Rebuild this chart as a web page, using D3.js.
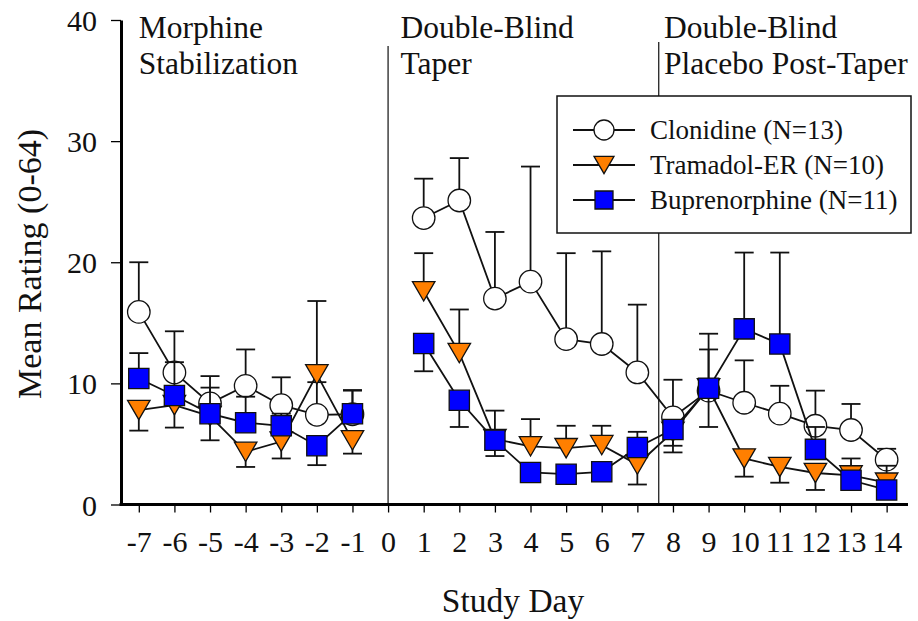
<!DOCTYPE html>
<html>
<head>
<meta charset="utf-8">
<script src="https://cdn.jsdelivr.net/npm/d3@7"></script>
<style>
   body { margin: 0; background: #fff; }
   svg { display: block; font-family: "Liberation Serif", "Times New Roman", serif; }
</style>
</head>
<body>
<svg class="chart" width="918" height="621"></svg>
<script>
// DATA
var studyDays = [-7, -6, -5, -4, -3, -2, -1, 1, 2, 3, 4, 5, 6, 7, 8, 9, 10, 11, 12, 13, 14];
var xTickValues = d3.range(-7, 15);
var yTickValues = [0, 10, 20, 30, 40];

var clonidineMeans = [15.9, 10.9, 8.35, 9.8, 8.2, 7.4, 7.45, 23.65, 25.1, 17.0, 18.4, 13.65, 13.25, 10.9, 7.2, 9.4, 8.4, 7.5, 6.5, 6.15, 3.7];
// signed: positive bar drawn up, negative drawn down
var clonidineErrors = [4.1, 3.4, 2.25, 3.0, 2.3, 2.7, 2.0, 3.25, 3.5, 5.5, 9.5, 7.1, 7.65, 5.6, 3.1, 4.7, 3.5, 2.3, 2.9, 2.15, 0.9];

var tramadolMeans = [7.8, 8.2, 7.3, 4.35, 5.2, 10.75, 5.3, 17.6, 12.5, 5.4, 4.8, 4.65, 4.9, 3.3, 6.0, 9.6, 3.8, 3.1, 2.6, 2.4, 1.8];
var tramadolErrors = [-1.7, -1.85, -2.0, -1.25, -1.4, 6.05, -1.1, 3.15, 3.6, 2.35, 2.25, 1.85, 1.6, -1.65, -1.7, -3.2, -1.5, -1.3, -1.4, 1.4, 1.4];

var buprenorphineMeans = [10.4, 9.0, 7.5, 6.75, 6.5, 4.85, 7.5, 13.3, 8.6, 5.3, 2.65, 2.5, 2.7, 4.7, 6.2, 9.6, 14.5, 13.25, 4.55, 2.0, 1.2];
var buprenorphineErrors = [2.1, 2.75, 2.15, 2.15, 1.0, -1.6, 1.9, -2.3, -2.2, -1.3, -0.75, -0.5, -0.5, 1.3, -1.35, 3.2, 6.3, 7.55, 1.85, -0.5, -0.4];

var seriesNames = ['Clonidine (N=13)', 'Tramadol-ER (N=10)', 'Buprenorphine (N=11)'];
var seriesColors = ['#ffffff', '#ff7f00', '#0000ff'];
var seriesSymbols = ['circle', 'triangle', 'square'];

var phaseLabels = [['Morphine', 'Stabilization'], ['Double-Blind', 'Taper'], ['Double-Blind', 'Placebo Post-Taper']];
var phaseStartDays = [-7, 0.35, 7.75];
var phaseDividers = [0, 7.6];

(function () {
   var svg = d3.select('svg.chart');

   var x = d3.scaleLinear().domain([-7.5, 14.6]).range([121, 908]);
   var y = d3.scaleLinear().domain([0, 40]).range([504.5, 20]);

   var series = [
      {name: seriesNames[0], means: clonidineMeans, errors: clonidineErrors},
      {name: seriesNames[1], means: tramadolMeans, errors: tramadolErrors},
      {name: seriesNames[2], means: buprenorphineMeans, errors: buprenorphineErrors}
   ].map(function (s, i) {
      s.color = seriesColors[i];
      s.symbol = seriesSymbols[i];
      s.points = studyDays.map(function (day, j) {
         return {day: day, mean: s.means[j], err: s.errors[j]};
      });
      return s;
   });

   // phase divider lines
   svg.selectAll('.divider')
      .data(phaseDividers)
      .enter().append('line')
      .attr('class', 'divider')
      .attr('x1', function (d) { return x(d); })
      .attr('x2', function (d) { return x(d); })
      .attr('y1', function (d, i) { return i === 0 ? 46 : 42; })
      .attr('y2', y(0))
      .attr('stroke', '#222')
      .attr('stroke-width', 1.3);

   // phase labels
   var phase = svg.selectAll('.phase')
      .data(phaseLabels)
      .enter().append('text')
      .attr('class', 'phase')
      .attr('font-size', 31.5)
      .attr('fill', '#111');
   phase.selectAll('tspan')
      .data(function (d, i) {
         return d.map(function (t) { return {text: t, start: phaseStartDays[i]}; });
      })
      .enter().append('tspan')
      .attr('x', function (d) { return x(d.start); })
      .attr('y', function (d, i) { return 38 + i * 36; })
      .text(function (d) { return d.text; });

   function symbolPath(type, cx, cy, size) {
      if (type === 'circle') {
         var r = size / 2;
         return 'M' + (cx - r) + ',' + cy + 'a' + r + ',' + r + ' 0 1,0 ' + (2 * r) + ',0a' + r + ',' + r + ' 0 1,0 ' + (-2 * r) + ',0Z';
      }
      if (type === 'square') {
         var h = size * 0.45;
         return 'M' + (cx - h) + ',' + (cy - h) + 'h' + (2 * h) + 'v' + (2 * h) + 'h' + (-2 * h) + 'Z';
      }
      var w = size * 0.5, t = size * 0.43;
      return 'M' + (cx - w) + ',' + (cy - t) + 'L' + (cx + w) + ',' + (cy - t) + 'L' + cx + ',' + (cy + t) + 'Z';
   }

   var line = d3.line()
      .x(function (d) { return x(d.day); })
      .y(function (d) { return y(d.mean); });

   series.forEach(function (s) {
      var g = svg.append('g').attr('class', 'serie');

      // break the line at day 0
      var segs = [s.points.filter(function (p) { return p.day < 0; }), s.points.filter(function (p) { return p.day > 0; })];
      g.selectAll('path.line')
         .data(segs)
         .enter().append('path')
         .attr('class', 'line')
         .attr('d', line)
         .attr('fill', 'none')
         .attr('stroke', '#111')
         .attr('stroke-width', 1.8);

      var eb = g.selectAll('.err')
         .data(s.points)
         .enter().append('g')
         .attr('class', 'err')
         .attr('stroke', '#111')
         .attr('stroke-width', 1.8);
      eb.append('line')
         .attr('x1', function (d) { return x(d.day); })
         .attr('x2', function (d) { return x(d.day); })
         .attr('y1', function (d) { return y(d.mean); })
         .attr('y2', function (d) { return y(d.mean + d.err); });
      eb.append('line')
         .attr('x1', function (d) { return x(d.day) - 9.5; })
         .attr('x2', function (d) { return x(d.day) + 9.5; })
         .attr('y1', function (d) { return y(d.mean + d.err); })
         .attr('y2', function (d) { return y(d.mean + d.err); });

      g.selectAll('.marker')
         .data(s.points)
         .enter().append('path')
         .attr('class', 'marker')
         .attr('d', function (d) { return symbolPath(s.symbol, x(d.day), y(d.mean), 22.5); })
         .attr('fill', s.color)
         .attr('stroke', '#111')
         .attr('stroke-width', 1.3);
   });

   // axes
   var yAxis = d3.axisLeft(y)
      .tickValues(yTickValues)
      .tickSize(10)
      .tickSizeOuter(0)
      .tickPadding(14);
   var yg = svg.append('g')
      .attr('transform', 'translate(121,0)')
      .call(yAxis)
      .attr('font-family', null)
      .attr('font-size', 30);
   yg.select('.domain').attr('stroke-width', 3).attr('stroke', '#000');
   yg.selectAll('.tick line').attr('stroke-width', 1.3);
   yg.selectAll('.tick text').attr('fill', '#111').attr('dy', '0.35em');

   var xAxis = d3.axisBottom(x)
      .tickValues(xTickValues)
      .tickSize(8)
      .tickSizeOuter(0)
      .tickPadding(18)
      .tickFormat(d3.format('d'));
   var xg = svg.append('g')
      .attr('transform', 'translate(0,' + y(0) + ')')
      .call(xAxis)
      .attr('font-family', null)
      .attr('font-size', 30);
   xg.select('.domain').attr('stroke-width', 3).attr('stroke', '#000')
      .attr('d', 'M' + (x.range()[0] - 1.5) + ',0H' + x.range()[1]);
   xg.selectAll('.tick line').attr('stroke-width', 1.3);
   xg.selectAll('.tick text').attr('fill', '#111').text(function (d) { return d < 0 ? '-' + Math.abs(d) : d; });

   // axis titles
   svg.append('text')
      .attr('x', 513)
      .attr('y', 612)
      .attr('text-anchor', 'middle')
      .attr('font-size', 33.5)
      .attr('fill', '#111')
      .text('Study Day');

   svg.append('text')
      .attr('transform', 'translate(41,264) rotate(-90)')
      .attr('text-anchor', 'middle')
      .attr('font-size', 34)
      .attr('fill', '#111')
      .text('Mean Rating (0-64)');

   // legend
   var legend = svg.append('g').attr('class', 'legend');
   legend.append('rect')
      .attr('x', 557)
      .attr('y', 96)
      .attr('width', 354)
      .attr('height', 137)
      .attr('fill', '#fff')
      .attr('stroke', '#111')
      .attr('stroke-width', 1.5);

   var item = legend.selectAll('.legendItem')
      .data(series)
      .enter().append('g')
      .attr('class', 'legendItem')
      .attr('transform', function (d, i) { return 'translate(0,' + (130 + i * 35) + ')'; });
   item.append('line')
      .attr('x1', 573).attr('x2', 635)
      .attr('stroke', '#111').attr('stroke-width', 1.8);
   item.append('path')
      .attr('d', function (d) { return symbolPath(d.symbol, 604, 0, 20); })
      .attr('fill', function (d) { return d.color; })
      .attr('stroke', '#111')
      .attr('stroke-width', 1.3);
   item.append('text')
      .attr('x', 650)
      .attr('dy', '0.35em')
      .attr('font-size', 27)
      .attr('fill', '#111')
      .text(function (d) { return d.name; });
})();
</script>
</body>
</html>
